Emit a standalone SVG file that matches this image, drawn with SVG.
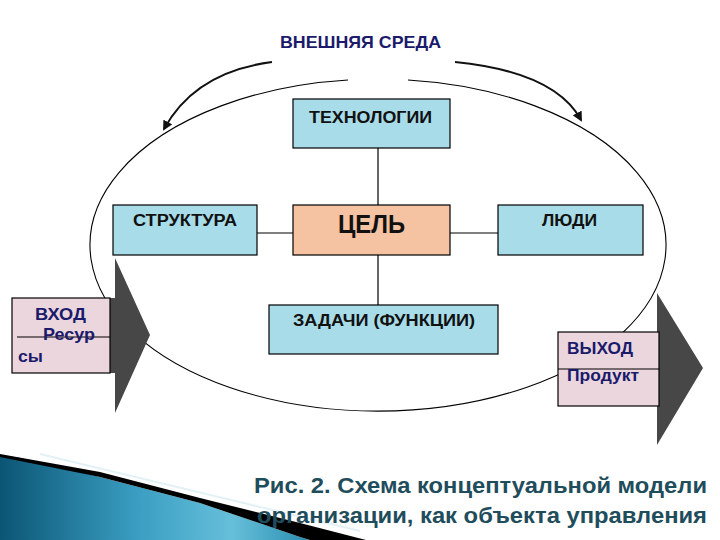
<svg xmlns="http://www.w3.org/2000/svg" width="720" height="540" viewBox="0 0 720 540">
<defs>
<style>
.box{stroke:#000;stroke-width:1.2}
.blue{fill:#a8dce8}
.peach{fill:#f5c2a2}
.pink{fill:#ead6dc}
.t{font-family:"Liberation Sans",Arial,sans-serif;font-weight:bold}
.dark{fill:#111}
.navy{fill:#1b1a6b}
.conn{stroke:#000;stroke-width:1.2;fill:none}
.env{stroke:#000;stroke-width:1.1;fill:none}
.curve{stroke:#111;stroke-width:2;fill:none}
.block{fill:#474747}
.cap{fill:#1f4d5c;font-size:22px}
</style>
<marker id="ah" viewBox="0 0 10 10" refX="8" refY="5" markerWidth="5" markerHeight="5" orient="auto"><path d="M0,0 L10,5 L0,10 Z" fill="#111"/></marker>
<linearGradient id="teal" x1="0" y1="0" x2="1" y2="0">
<stop offset="0" stop-color="#0b5574"/>
<stop offset="0.45" stop-color="#3b9fc3"/>
<stop offset="0.75" stop-color="#66bfda"/>
<stop offset="1" stop-color="#2a8eb0"/>
</linearGradient>
</defs>
<rect width="720" height="540" fill="#fff"/>

<g id="decoration">
<polygon points="0,455 20,458 100,477 200,503 300,537 310,540 0,540" fill="url(#teal)"/>
<line x1="40" y1="454" x2="360" y2="531" stroke="#e2f1f6" stroke-width="2"/>
<polygon points="0,454 100,472 200,498 300,523 366,540 310,540 300,537 200,503 100,477 0,457" fill="#000"/>
</g>

<g id="environment">
<path class="env" d="M 348 80 A 288 166 0 1 0 408 80"/>
<text class="t navy" x="280" y="48" font-size="17" textLength="161" lengthAdjust="spacingAndGlyphs">ВНЕШНЯЯ СРЕДА</text>
</g>

<g id="connectors">
<path class="curve" d="M 272 62 Q 195 72 164 129" marker-end="url(#ah)"/>
<path class="curve" d="M 455 62 Q 555 72 581 120" marker-end="url(#ah)"/>
<line class="conn" x1="378" y1="148" x2="378" y2="205"/>
<line class="conn" x1="257" y1="233" x2="293" y2="233"/>
<line class="conn" x1="450" y1="233" x2="498" y2="233"/>
<line class="conn" x1="378" y1="255" x2="378" y2="305"/>
</g>

<g id="tech">
<rect class="box blue" x="293" y="99" width="157" height="49"/>
<text class="t dark" x="309" y="123" font-size="17" textLength="123" lengthAdjust="spacingAndGlyphs">ТЕХНОЛОГИИ</text>
</g>

<g id="structure">
<rect class="box blue" x="113" y="205" width="144" height="50"/>
<text class="t dark" x="133" y="226" font-size="16" textLength="104" lengthAdjust="spacingAndGlyphs">СТРУКТУРА</text>
</g>

<g id="goal">
<rect class="box peach" x="293" y="205" width="157" height="50"/>
<text class="t dark" x="338" y="233" font-size="25" textLength="67" lengthAdjust="spacingAndGlyphs">ЦЕЛЬ</text>
</g>

<g id="people">
<rect class="box blue" x="498" y="205" width="145" height="50"/>
<text class="t dark" x="542" y="226" font-size="16" textLength="55" lengthAdjust="spacingAndGlyphs">ЛЮДИ</text>
</g>

<g id="tasks">
<rect class="box blue" x="269" y="305" width="229" height="49"/>
<text class="t dark" x="293" y="326" font-size="16" textLength="182" lengthAdjust="spacingAndGlyphs">ЗАДАЧИ (ФУНКЦИИ)</text>
</g>

<g id="input">
<polygon class="block" points="12,298 115,298 115,258 150,335 115,413 115,373 12,373"/>
<rect class="box pink" x="12" y="298" width="98" height="75"/>
<line x1="17" y1="337" x2="110" y2="337" stroke="#000" stroke-width="1.2"/>
<text class="t navy" x="35" y="320" font-size="17" textLength="51" lengthAdjust="spacingAndGlyphs">ВХОД</text>
<text class="t navy" x="43" y="340" font-size="17" textLength="52" lengthAdjust="spacingAndGlyphs">Ресур</text>
<text class="t navy" x="18" y="362" font-size="17" textLength="25" lengthAdjust="spacingAndGlyphs">сы</text>
</g>

<g id="output">
<polygon class="block" points="558,332 657,332 657,293 703,368 657,445 657,406 558,406"/>
<rect class="box pink" x="558" y="332" width="101" height="74"/>
<line x1="558" y1="369" x2="659" y2="369" stroke="#000" stroke-width="1.2"/>
<text class="t navy" x="567" y="354" font-size="17" textLength="66" lengthAdjust="spacingAndGlyphs">ВЫХОД</text>
<text class="t navy" x="567" y="381" font-size="17" textLength="72" lengthAdjust="spacingAndGlyphs">Продукт</text>
</g>

<g id="caption">
<text class="t cap" x="254" y="493" textLength="453" lengthAdjust="spacingAndGlyphs">Рис. 2. Схема концептуальной модели</text>
<text class="t cap" x="257" y="523" textLength="450" lengthAdjust="spacingAndGlyphs">организации, как объекта управления</text>
</g>
</svg>
